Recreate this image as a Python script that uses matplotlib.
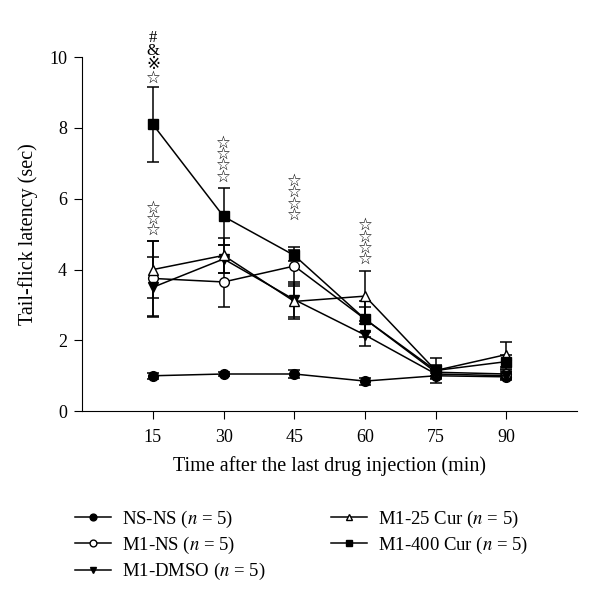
import matplotlib.pyplot as plt

plt.rcParams['font.family'] = ['Liberation Serif', 'DejaVu Serif', 'DejaVu Sans']
plt.rcParams['mathtext.fontset'] = 'stix'

times = [15, 30, 45, 60, 75, 90]

ns_ns = [1.0, 1.05, 1.05, 0.85, 1.0, 0.97]
ns_ns_err = [0.08, 0.07, 0.12, 0.1, 0.08, 0.08]

m1_ns = [3.75, 3.65, 4.1, 2.6, 1.1, 1.05]
m1_ns_err = [1.05, 0.7, 0.55, 0.35, 0.1, 0.1]

m1_dmso = [3.5, 4.3, 3.15, 2.15, 1.05, 1.0]
m1_dmso_err = [0.85, 0.4, 0.5, 0.3, 0.1, 0.1]

m1_25 = [4.0, 4.4, 3.1, 3.25, 1.15, 1.6]
m1_25_err = [0.8, 0.5, 0.5, 0.7, 0.35, 0.35]

m1_400 = [8.1, 5.5, 4.4, 2.6, 1.15, 1.4]
m1_400_err = [1.05, 0.8, 0.15, 0.5, 0.15, 0.2]

series = [
    ("NS-NS ($n$ = 5)", ns_ns, ns_ns_err, "o", "black"),
    ("M1-NS ($n$ = 5)", m1_ns, m1_ns_err, "o", "white"),
    ("M1-DMSO ($n$ = 5)", m1_dmso, m1_dmso_err, "v", "black"),
    ("M1-25 Cur ($n$ = 5)", m1_25, m1_25_err, "^", "white"),
    ("M1-400 Cur ($n$ = 5)", m1_400, m1_400_err, "s", "black"),
]

# significance marks, stacked: (x, centre y, symbols from top to bottom)
marks = [
    (15, 9.97, "#\n&\n※\n☆"),
    (15, 5.4, "☆\n☆\n☆"),
    (30, 7.08, "☆\n☆\n☆\n☆"),
    (45, 6.0, "☆\n☆\n☆\n☆"),
    (60, 4.75, "☆\n☆\n☆\n☆"),
]

fig = plt.figure(figsize=(6, 6.02), dpi=100)
ax = fig.add_axes([0.137, 0.317, 0.825, 0.588])

handles = []
for label, values, errors, marker, face in series:
    ax.errorbar(
        times, values, yerr=errors,
        fmt="none", ecolor="black", elinewidth=1.1,
        capsize=4.3, capthick=1.1, zorder=2
    )
    line, = ax.plot(
        times, values,
        color="black", linewidth=1.1,
        marker=marker, markersize=7,
        markerfacecolor=face, markeredgecolor="black",
        markeredgewidth=1.0, label=label, zorder=3
    )
    handles.append(line)

for x, y, text in marks:
    spacing = 0.8 if "#" in text else 0.6
    ax.text(
        x, y, text, ha="center", va="center", fontsize=12,
        linespacing=spacing,
        family=['Liberation Serif', 'DejaVu Sans', 'Noto Sans CJK SC'],
        clip_on=False
    )

ax.set_xlim(0, 105)
ax.set_ylim(0, 10)
ax.set_xticks(times)
ax.set_yticks([0, 2, 4, 6, 8, 10])
ax.spines["top"].set_visible(False)
ax.spines["right"].set_visible(False)
ax.tick_params(labelsize=13, direction="out", length=6)
ax.tick_params(axis="x", pad=7)
ax.tick_params(axis="y", pad=5)
ax.set_xlabel("Time after the last drug injection (min)", fontsize=14.5, labelpad=7)
ax.set_ylabel("Tail-flick latency (sec)", fontsize=14.5, labelpad=8)

fig.legend(
    handles=handles, loc="upper left", bbox_to_anchor=(0.125, 0.155),
    ncol=2, frameon=False, fontsize=13.5, handlelength=1.9,
    handletextpad=0.6, columnspacing=3.5, labelspacing=0.27,
    markerscale=0.7, borderpad=0, borderaxespad=0
)

fig.savefig("out.png", dpi=100)
